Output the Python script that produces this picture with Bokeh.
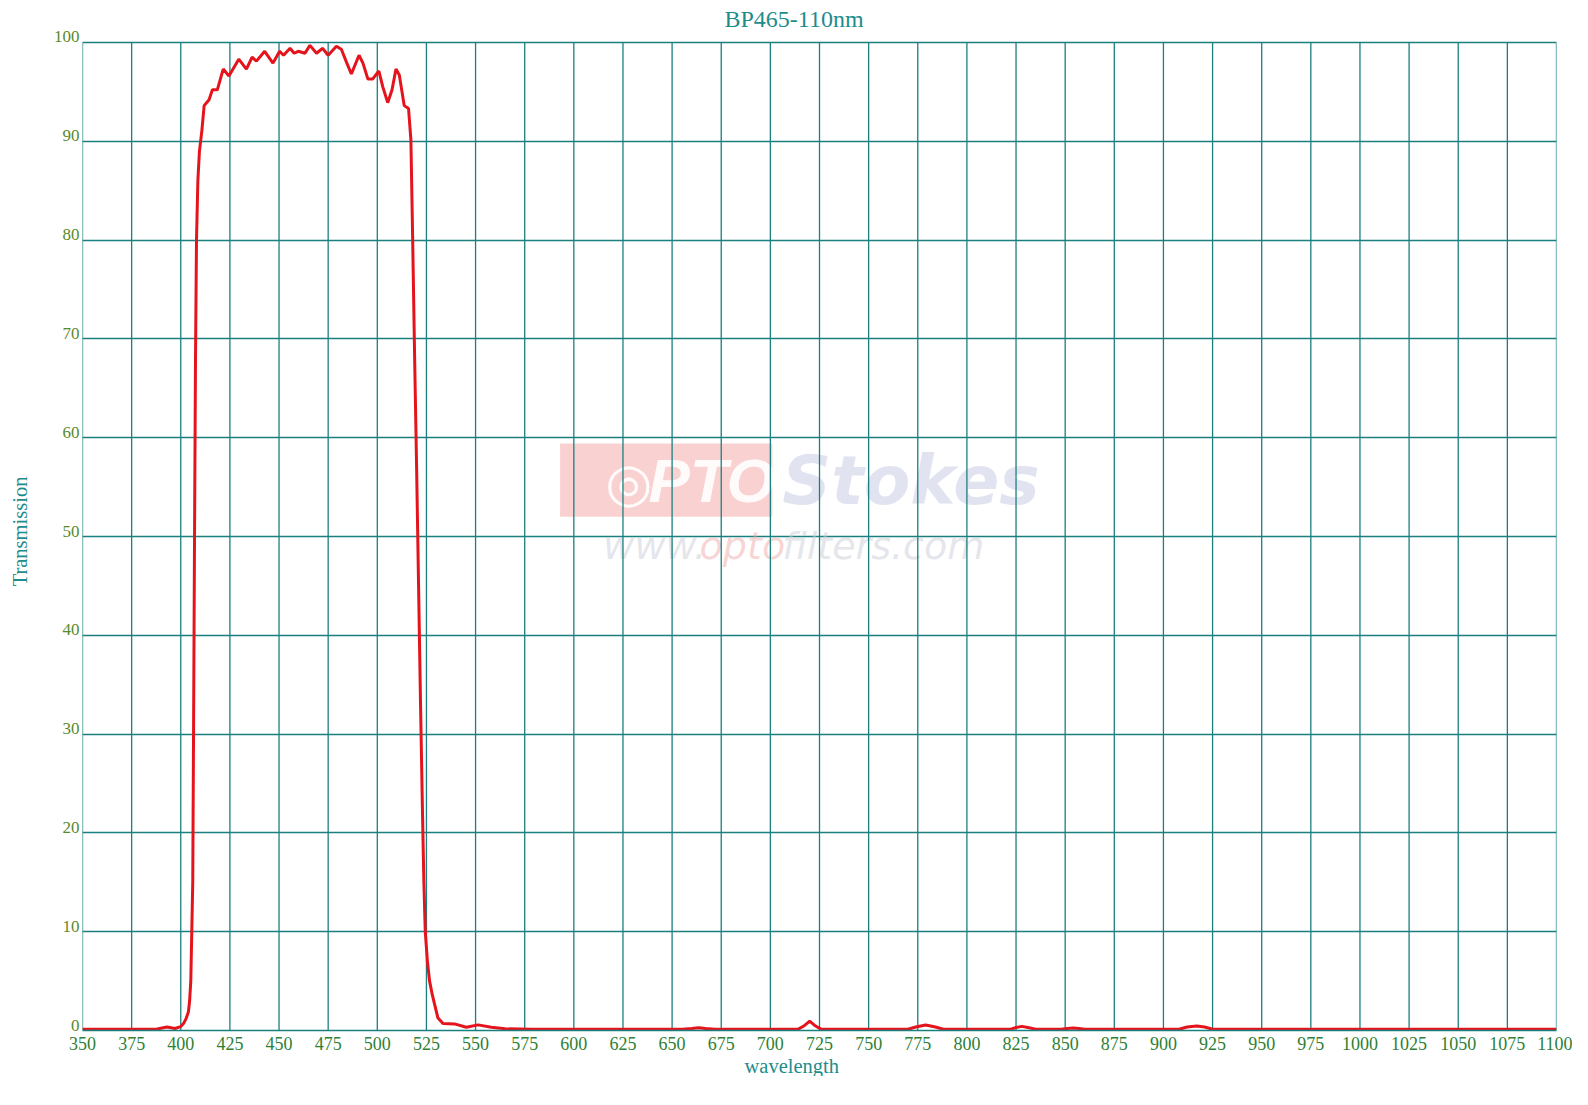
from bokeh.plotting import figure
from bokeh.models import Range1d, FixedTicker, BoxAnnotation, Label, Title, LinearAxis
from bokeh.embed import file_html
from bokeh.resources import INLINE

# ---- data ----
wavelength = [350, 380, 388, 393, 397, 400, 401.4, 402.7, 403.9, 404.5, 405.1, 405.6,
              406.1, 406.5, 407, 407.5, 408, 408.7, 409.5, 410.7, 411.9, 414.4, 416.1,
              418.6, 421.6, 424.5, 429.5, 433.4, 436.3, 438.5, 442.7, 446.9, 450.3,
              452.3, 455.6, 457.7, 459.8, 463.2, 465.7, 469.1, 472.1, 475.0, 479.2,
              481.7, 484.3, 486.8, 490.7, 492.7, 495.2, 497.7, 500.8, 502.8, 505.3,
              507.5, 509.5, 511.2, 513.7, 515.9, 517.1, 518, 519, 520, 521, 522, 523,
              523.7, 524.4, 525.5, 526.6, 528, 529.1, 530.8, 533.4, 539.3, 545.3, 551.3,
              558, 565, 578.5, 600, 655, 660, 663.5, 667, 672, 714, 717, 720, 723, 726,
              770, 774, 779, 784, 788, 822, 825, 828, 831, 835, 848, 851, 854, 857, 860,
              908, 912, 917, 921, 925, 1100]
transmission = [0.12, 0.12, 0.15, 0.35, 0.2, 0.4, 0.7, 1.2, 1.9, 3.0, 5.0, 10,
                15, 30, 50, 68, 80, 86, 89, 91, 93.6, 94.2, 95.2,
                95.2, 97.3, 96.6, 98.3, 97.3, 98.5, 98.1, 99.1, 97.9, 99.1,
                98.7, 99.4, 98.9, 99.1, 98.9, 99.7, 98.9, 99.4, 98.7, 99.6,
                99.3, 98.0, 96.8, 98.7, 97.9, 96.3, 96.3, 97.1, 95.5, 93.9,
                95.2, 97.3, 96.7, 93.6, 93.3, 90.1, 80, 68, 57, 45, 33, 22,
                15, 10, 7, 5, 3.6, 2.7, 1.3, 0.7, 0.67, 0.33, 0.57,
                0.33, 0.17, 0.12, 0.12, 0.12, 0.2, 0.28, 0.2, 0.12, 0.12, 0.45, 0.95, 0.45, 0.12,
                0.12, 0.35, 0.55, 0.35, 0.12, 0.12, 0.3, 0.42, 0.3, 0.12, 0.12, 0.2, 0.25, 0.2, 0.12,
                0.12, 0.35, 0.45, 0.35, 0.12, 0.12]
x_ticks = list(range(350, 1101, 25))
y_ticks = list(range(0, 101, 10))

GRID = "#1b7f7f"
TEAL = "#1e8c8c"
XLAB = "#2f7f35"
YLAB = "#5a8a2a"
SERIF = "Liberation Serif"

Y_MAX = 100          # top of the grid
Y_TOP = 101          # frame reaches a little above the grid so the "100" label fits
LABEL_LIFT = 0.55    # y tick labels sit just above their grid lines
PX_PER_UNIT = 9.88

p = figure(frame_width=1474, frame_height=round(PX_PER_UNIT * Y_TOP), output_backend="svg",
           toolbar_location=None, x_range=Range1d(350, 1100), y_range=Range1d(0, Y_TOP),
           y_axis_location=None,
           min_border_left=82, min_border_top=32, min_border_right=16, min_border_bottom=8)
p.outline_line_color = None

p.title.text = "BP465-110nm"
p.title.align = "left"
p.title.text_font = SERIF
p.title.text_font_size = "24px"
p.title.text_font_style = "normal"
p.title.text_color = TEAL
p.title.offset = 642
p.title.standoff = 1

p.xaxis.ticker = FixedTicker(ticks=x_ticks)
ax = p.xaxis[0]
ax.axis_line_color = GRID
ax.axis_line_width = 1.5
ax.major_tick_in = 0
ax.major_tick_out = 0
ax.minor_tick_line_color = None
ax.major_label_text_font = SERIF
ax.major_label_text_color = XLAB
ax.major_label_text_font_size = "18px"
ax.major_label_standoff = 6

p.add_layout(Title(text="wavelength", align="left", offset=662, standoff=0,
                   text_font=SERIF, text_font_size="20.5px", text_font_style="normal",
                   text_color=TEAL), "below")

# y tick labels: axis on a range lifted by a few pixels
p.extra_y_ranges = {"labels": Range1d(-LABEL_LIFT, Y_TOP - LABEL_LIFT)}
yax = LinearAxis(y_range_name="labels", ticker=FixedTicker(ticks=y_ticks))
yax.axis_line_color = None
yax.major_tick_in = 0
yax.major_tick_out = 0
yax.minor_tick_line_color = None
yax.major_label_text_font = SERIF
yax.major_label_text_color = YLAB
yax.major_label_text_font_size = "17px"
yax.major_label_standoff = 3
p.add_layout(yax, "left")

# y axis title, centred on the grid area
tax = LinearAxis(ticker=FixedTicker(ticks=[]), bounds=(0, 97), axis_label="Transmission")
tax.axis_line_color = None
tax.major_tick_in = 0
tax.major_tick_out = 0
tax.minor_tick_line_color = None
tax.major_label_standoff = 0
tax.axis_label_text_font = SERIF
tax.axis_label_text_font_size = "20.5px"
tax.axis_label_text_font_style = "normal"
tax.axis_label_text_color = TEAL
tax.axis_label_standoff = 20
p.add_layout(tax, "left")

# grid: horizontal lines from the grid model, vertical lines stop at the top of the grid
p.xgrid.visible = False
p.ygrid.ticker = FixedTicker(ticks=y_ticks)
p.ygrid.grid_line_color = GRID
p.ygrid.grid_line_width = 1.3
p.segment(x0=x_ticks, y0=[0] * len(x_ticks), x1=x_ticks, y1=[Y_MAX] * len(x_ticks),
          line_color=GRID, line_width=1.3)

# watermark
WM = dict(level="underlay")
p.add_layout(BoxAnnotation(left=593, right=701, bottom=52, top=59.4, fill_color="#f07070",
                           fill_alpha=0.32, line_color=None, level="underlay"))
p.add_layout(Label(x=616, y=52.3, text="\u25ce", text_font="DejaVu Sans", text_font_size="54px",
                   text_color="white", text_alpha=0.9, **WM))
p.add_layout(Label(x=638, y=52.2, text="PTO", text_font="Liberation Sans", text_font_size="62px",
                   text_font_style="bold italic", text_color="white", text_alpha=0.9, **WM))
p.add_layout(Label(x=706, y=51.7, text="Stokes", text_font="DejaVu Sans", text_font_size="68px",
                   text_font_style="bold italic", text_color="#c9cde3", text_alpha=0.55, **WM))
p.add_layout(Label(x=615, y=46.8, text="www.", text_font="DejaVu Sans", text_font_size="38px",
                   text_font_style="italic", text_color="#c9cdd8", text_alpha=0.5, **WM))
p.add_layout(Label(x=664, y=46.8, text="opto", text_font="DejaVu Sans", text_font_size="38px",
                   text_font_style="italic", text_color="#f0a0a0", text_alpha=0.45, **WM))
p.add_layout(Label(x=706, y=46.8, text="filters.com", text_font="DejaVu Sans", text_font_size="38px",
                   text_font_style="italic", text_color="#c9cdd8", text_alpha=0.5, **WM))

p.line(wavelength, transmission, line_color="#e5141c", line_width=3)

open("out.html", "w").write(file_html(p, INLINE))
